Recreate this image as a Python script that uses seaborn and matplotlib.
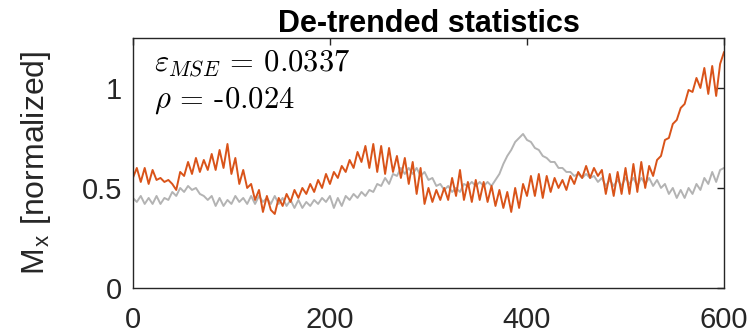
import numpy as np
import pandas as pd
import matplotlib
matplotlib.use("Agg")
import matplotlib.pyplot as plt
import seaborn as sns

# ---- data ----
x_step = 4
orange_vals = [
    0.55, 0.60, 0.53, 0.60, 0.52, 0.59, 0.54, 0.55, 0.53, 0.54,   # 0-36
    0.52, 0.49, 0.58, 0.56, 0.63, 0.57, 0.65, 0.58, 0.64, 0.59,   # 40-76
    0.67, 0.59, 0.69, 0.60, 0.72, 0.57, 0.65, 0.52, 0.59, 0.50,   # 80-116
    0.52, 0.44, 0.49, 0.38, 0.46, 0.39, 0.37, 0.45, 0.41, 0.47,   # 120-156
    0.43, 0.49, 0.45, 0.50, 0.47, 0.52, 0.48, 0.54, 0.50, 0.57,   # 160-196
    0.52, 0.58, 0.55, 0.61, 0.58, 0.64, 0.60, 0.68, 0.63, 0.71,   # 200-236
    0.60, 0.72, 0.58, 0.71, 0.57, 0.70, 0.58, 0.66, 0.55, 0.65,   # 240-276
    0.52, 0.63, 0.47, 0.60, 0.42, 0.50, 0.43, 0.49, 0.44, 0.50,   # 280-316
    0.44, 0.55, 0.46, 0.59, 0.44, 0.53, 0.43, 0.54, 0.44, 0.53,   # 320-356
    0.43, 0.51, 0.41, 0.49, 0.40, 0.48, 0.38, 0.50, 0.40, 0.52,   # 360-396
    0.46, 0.56, 0.46, 0.57, 0.45, 0.56, 0.48, 0.55, 0.50, 0.54,   # 400-436
    0.49, 0.56, 0.52, 0.58, 0.55, 0.61, 0.55, 0.60, 0.56, 0.59,   # 440-476
    0.47, 0.57, 0.46, 0.58, 0.47, 0.60, 0.47, 0.62, 0.48, 0.63,   # 480-516
    0.50, 0.61, 0.56, 0.64, 0.66, 0.74, 0.75, 0.82, 0.84, 0.90,   # 520-556
    0.92, 0.99, 0.98, 1.05, 1.00, 1.10, 0.97, 1.11, 0.96, 1.12,   # 560-596
    1.18,                                                         # 600
]
gray_vals = [
    0.45, 0.43, 0.46, 0.42, 0.45, 0.42, 0.46, 0.42, 0.45, 0.44,
    0.48, 0.46, 0.50, 0.48, 0.51, 0.49, 0.50, 0.47, 0.46, 0.44,
    0.46, 0.41, 0.45, 0.41, 0.44, 0.42, 0.46, 0.43, 0.45, 0.42,
    0.46, 0.42, 0.46, 0.43, 0.45, 0.42, 0.46, 0.42, 0.45, 0.41,
    0.44, 0.40, 0.44, 0.40, 0.43, 0.41, 0.44, 0.42, 0.45, 0.43,
    0.46, 0.40, 0.45, 0.41, 0.46, 0.44, 0.47, 0.45, 0.48, 0.46,
    0.49, 0.48, 0.52, 0.51, 0.55, 0.52, 0.57, 0.56, 0.60, 0.57,
    0.60, 0.57, 0.60, 0.56, 0.58, 0.54, 0.55, 0.51, 0.52, 0.49,
    0.51, 0.48, 0.50, 0.48, 0.52, 0.51, 0.53, 0.51, 0.53, 0.51,
    0.53, 0.51, 0.54, 0.57, 0.62, 0.66, 0.69, 0.73, 0.75, 0.77,
    0.74, 0.73, 0.70, 0.69, 0.66, 0.65, 0.63, 0.63, 0.60, 0.60,
    0.58, 0.58, 0.56, 0.57, 0.55, 0.57, 0.55, 0.56, 0.53, 0.55,
    0.51, 0.54, 0.51, 0.54, 0.51, 0.55, 0.52, 0.55, 0.51, 0.55,
    0.52, 0.55, 0.51, 0.54, 0.50, 0.52, 0.47, 0.50, 0.45, 0.49,
    0.45, 0.50, 0.47, 0.52, 0.49, 0.55, 0.52, 0.58, 0.53, 0.59,
    0.60,
]
x_vals = np.arange(len(orange_vals)) * x_step

x_ticks = [0, 200, 400, 600]
y_ticks = [0, 0.5, 1]
y_tick_labels = ["0", "0.5", "1"]
title_text = "De-trended statistics"
ylabel_text = r"M$_\mathregular{x}$ [normalized]"
mse_text = r"$\varepsilon_{MSE}$ = 0.0337"
rho_text = r"$\rho$ = -0.024"

df = pd.DataFrame({"x": x_vals, "orange": orange_vals, "gray": gray_vals})

# ---- style ----
sns.set_theme(style="white")
plt.rcParams["font.family"] = ["Liberation Sans", "DejaVu Sans"]
plt.rcParams["mathtext.fontset"] = "cm"
plt.rcParams["axes.unicode_minus"] = False

fig = plt.figure(figsize=(7.55, 3.36), dpi=100)
ax = fig.add_axes([0.176, 0.143, 0.783, 0.744])

sns.lineplot(data=df, x="x", y="gray", ax=ax, color="#b3b3b3", linewidth=1.4)
sns.lineplot(data=df, x="x", y="orange", ax=ax, color="#D95319", linewidth=1.4)

ax.set_xlim(0, 600)
ax.set_ylim(0, 1.25)
ax.set_xticks(x_ticks)
ax.set_xticklabels([str(t) for t in x_ticks])
ax.set_yticks(y_ticks)
ax.set_yticklabels(y_tick_labels)

ax.tick_params(direction="in", length=5, width=1, colors="#262626",
               labelsize=21, top=True, right=True)
ax.tick_params(axis="y", pad=8)
ax.tick_params(axis="x", pad=13)
for s in ax.spines.values():
    s.set_color("#262626")
    s.set_linewidth(1.0)

ax.set_xlabel("")
ax.set_ylabel(ylabel_text, fontsize=23, color="#262626")
ax.yaxis.set_label_coords(-0.135, 0.5)
ax.set_title(title_text, fontsize=22, fontweight="bold", color="#000000", pad=4)

ax.text(0.035, 0.895, mse_text, transform=ax.transAxes, fontsize=22,
        va="center", ha="left", color="black", family="cmr10")
ax.text(0.035, 0.75, rho_text, transform=ax.transAxes, fontsize=22,
        va="center", ha="left", color="black", family="cmr10")

fig.savefig("out.png", dpi=100)
